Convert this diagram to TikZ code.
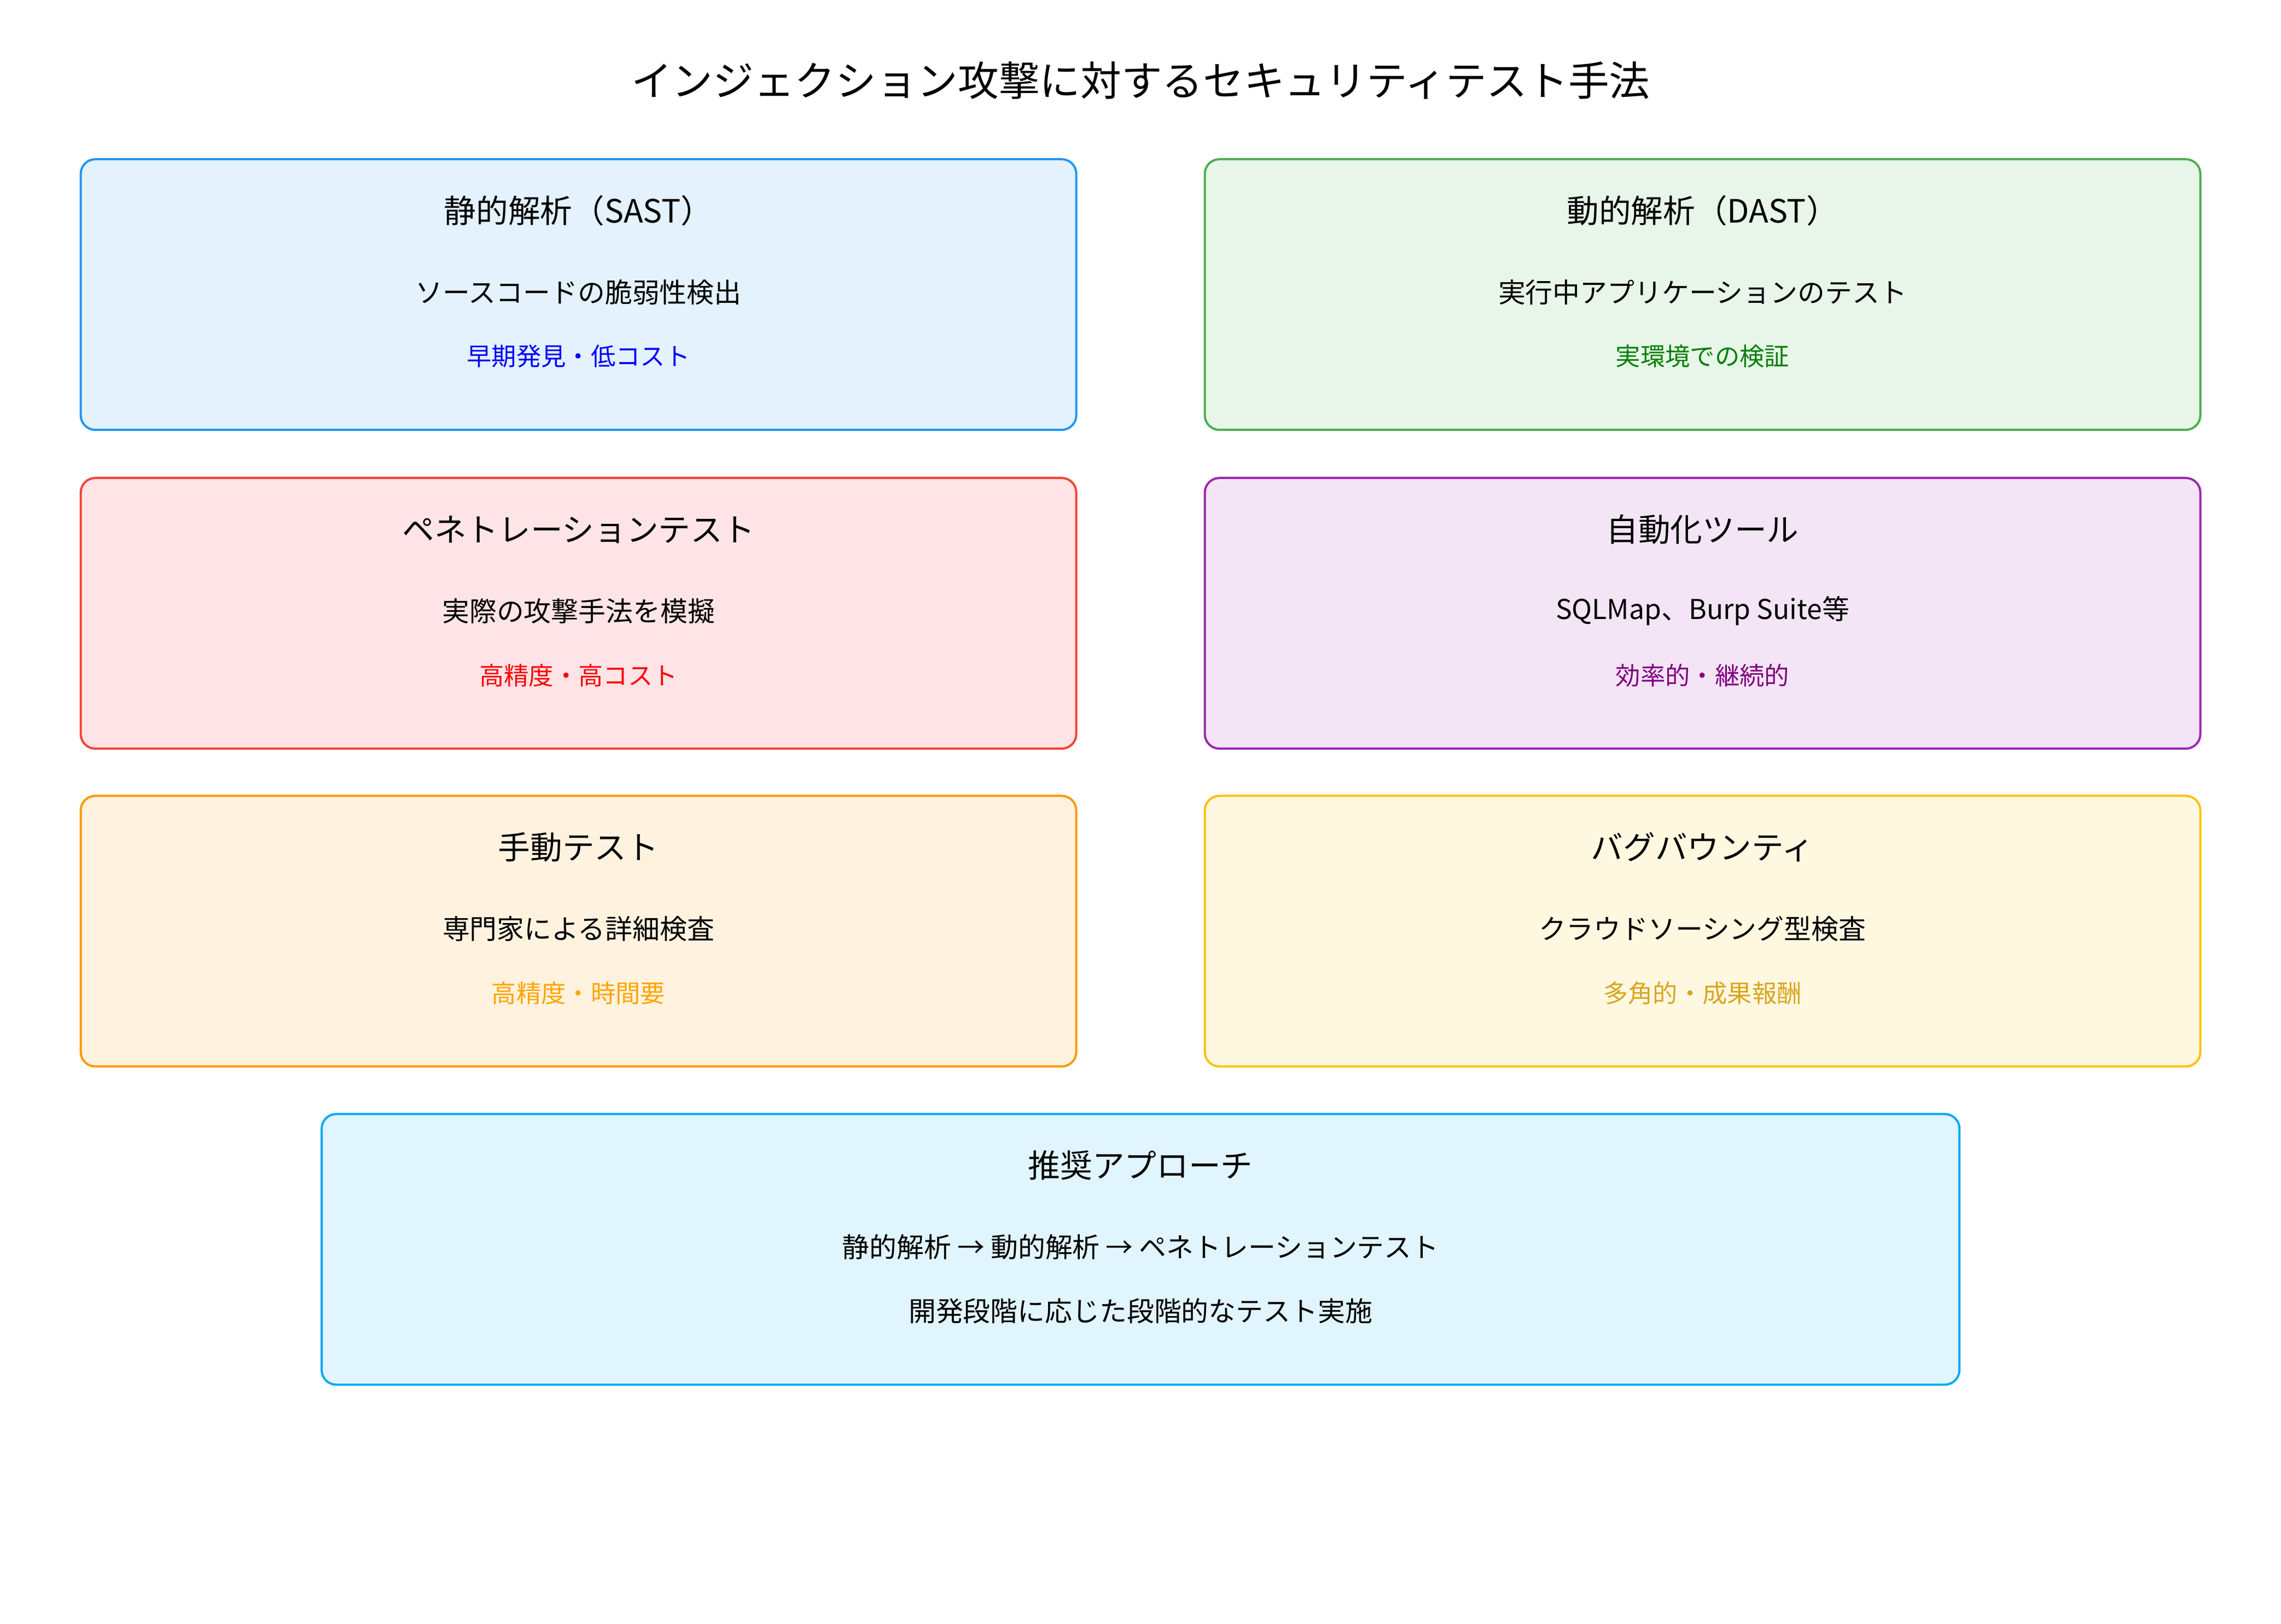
\documentclass[tikz,border=0pt]{standalone}
\usepackage{fontspec}
\setmainfont{Noto Sans CJK JP}
\usetikzlibrary{positioning}
\definecolor{f1}{HTML}{E3F2FD}\definecolor{d1}{HTML}{2196F3}
\definecolor{f2}{HTML}{E8F5E9}\definecolor{d2}{HTML}{4CAF50}
\definecolor{f3}{HTML}{FFE4E7}\definecolor{d3}{HTML}{F44336}
\definecolor{f4}{HTML}{F3E5F5}\definecolor{d4}{HTML}{9C27B0}
\definecolor{f5}{HTML}{FFF3E0}\definecolor{d5}{HTML}{FF9800}
\definecolor{f6}{HTML}{FFF8E1}\definecolor{d6}{HTML}{FFC107}
\definecolor{f7}{HTML}{E1F5FE}\definecolor{d7}{HTML}{03A9F4}
\definecolor{n1}{HTML}{0000FF}\definecolor{n2}{HTML}{008000}
\definecolor{n3}{HTML}{FF0000}\definecolor{n4}{HTML}{800080}
\definecolor{n5}{HTML}{FFA500}\definecolor{n6}{HTML}{DAA520}
\tikzset{
  card/.style={draw, line width=1.5pt, rounded corners=10pt, minimum height=185.6pt, minimum width=682.5pt, inner sep=0pt},
  txt/.style={inner sep=0pt, anchor=center},
  mtitle/.style={txt, font=\fontsize{28}{32}\selectfont},
  head/.style={txt, font=\fontsize{22}{26}\selectfont},
  desc/.style={txt, font=\fontsize{18.7}{22}\selectfont},
  note/.style={txt, font=\fontsize{17}{20}\selectfont},
}
\begin{document}
\begin{tikzpicture}[x=1pt,y=-1pt]
\useasboundingbox[fill=white] (0,0) rectangle (1563.75,1113.75);
\node[mtitle] (title) at (782,55) {インジェクション攻撃に対するセキュリティテスト手法};

\node[card, draw=d1, fill=f1] (b1) at (396.6,202) {};
\node[head] (b1h) at ([yshift=-36pt]b1.north) {静的解析（SAST）};
\node[desc] (b1d) at ([yshift=-92pt]b1.north) {ソースコードの脆弱性検出};
\node[note, text=n1] (b1n) at ([yshift=-136pt]b1.north) {早期発見・低コスト};

\node[card, draw=d2, fill=f2] (b2) at (1167.2,202) {};
\node[head] (b2h) at ([yshift=-36pt]b2.north) {動的解析（DAST）};
\node[desc] (b2d) at ([yshift=-92pt]b2.north) {実行中アプリケーションのテスト};
\node[note, text=n2] (b2n) at ([yshift=-136pt]b2.north) {実環境での検証};

\node[card, draw=d3, fill=f3] (b3) at (396.6,420.6) {};
\node[head] (b3h) at ([yshift=-36pt]b3.north) {ペネトレーションテスト};
\node[desc] (b3d) at ([yshift=-92pt]b3.north) {実際の攻撃手法を模擬};
\node[note, text=n3] (b3n) at ([yshift=-136pt]b3.north) {高精度・高コスト};

\node[card, draw=d4, fill=f4] (b4) at (1167.2,420.6) {};
\node[head] (b4h) at ([yshift=-36pt]b4.north) {自動化ツール};
\node[desc] (b4d) at ([yshift=-92pt]b4.north) {SQLMap、Burp Suite等};
\node[note, text=n4] (b4n) at ([yshift=-136pt]b4.north) {効率的・継続的};

\node[card, draw=d5, fill=f5] (b5) at (396.6,638.6) {};
\node[head] (b5h) at ([yshift=-36pt]b5.north) {手動テスト};
\node[desc] (b5d) at ([yshift=-92pt]b5.north) {専門家による詳細検査};
\node[note, text=n5] (b5n) at ([yshift=-136pt]b5.north) {高精度・時間要};

\node[card, draw=d6, fill=f6] (b6) at (1167.2,638.6) {};
\node[head] (b6h) at ([yshift=-36pt]b6.north) {バグバウンティ};
\node[desc] (b6d) at ([yshift=-92pt]b6.north) {クラウドソーシング型検査};
\node[note, text=n6] (b6n) at ([yshift=-136pt]b6.north) {多角的・成果報酬};

\node[card, draw=d7, fill=f7, minimum width=1122.75pt] (b7) at (781.9,856.8) {};
\node[head] (b7h) at ([yshift=-36pt]b7.north) {推奨アプローチ};
\node[desc] (b7d) at ([yshift=-92pt]b7.north) {静的解析 → 動的解析 → ペネトレーションテスト};
\node[desc] (b7e) at ([yshift=-136pt]b7.north) {開発段階に応じた段階的なテスト実施};
\end{tikzpicture}
\end{document}
